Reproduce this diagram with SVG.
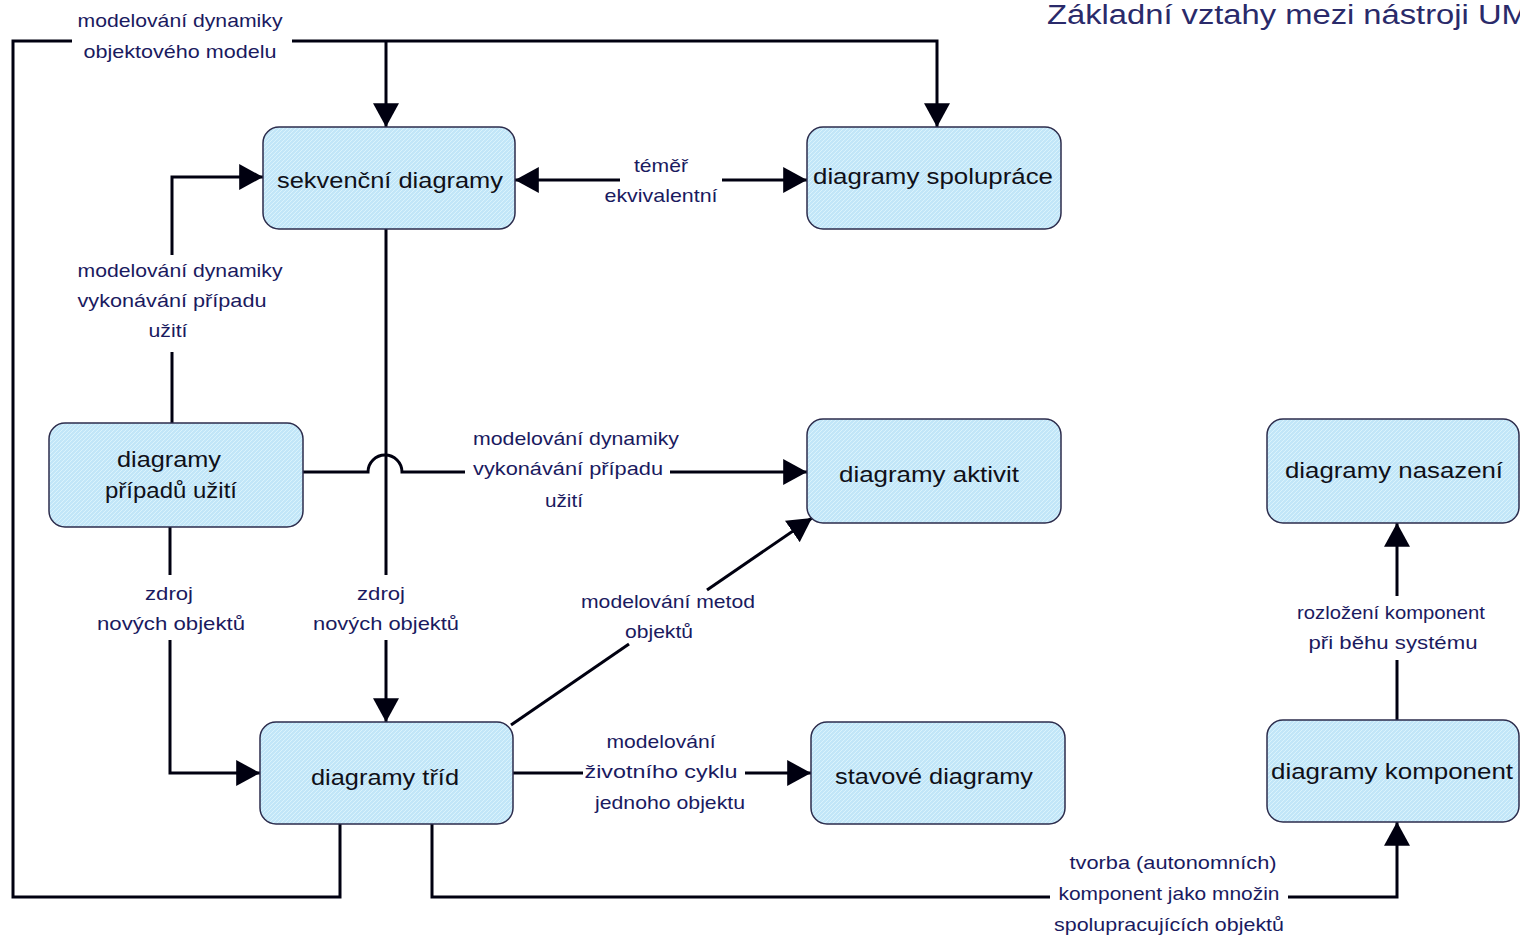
<svg xmlns="http://www.w3.org/2000/svg" width="1520" height="939" viewBox="0 0 1520 939">
<defs>
  <pattern id="hatch" width="4" height="4" patternUnits="userSpaceOnUse">
    <rect width="4" height="4" fill="#c2e6f8"/>
    <path d="M0,4 L4,0" stroke="#daf3fc" stroke-width="1"/>
  </pattern>
  <marker id="arr" markerUnits="userSpaceOnUse" markerWidth="24" markerHeight="26" viewBox="0 0 22 24" refX="22" refY="12" orient="auto">
    <path d="M0,0 L22,12 L0,24 z" fill="#000010"/>
  </marker>
  <marker id="arrS" markerUnits="userSpaceOnUse" markerWidth="24" markerHeight="26" viewBox="0 0 22 24" refX="0" refY="12" orient="auto">
    <path d="M22,0 L0,12 L22,24 z" fill="#000010"/>
  </marker>
</defs>
<style>
  .node rect { fill: url(#hatch); stroke: #2c2c4c; stroke-width: 1.5; }
  .node text { font-family: "Liberation Sans", Arial, sans-serif; font-size: 22px; fill: #101018; text-anchor: middle; }
  .conn path { fill: none; stroke: #000010; stroke-width: 3; }
  .lbl { font-family: "Liberation Sans", Arial, sans-serif; font-size: 19px; fill: #1a1a60; text-anchor: middle; }
  .title { font-family: "Liberation Sans", Arial, sans-serif; font-size: 27px; fill: #2a2a6a; }
</style>
<rect width="1520" height="939" fill="#ffffff"/>

<text class="title" x="1047" y="24" textLength="500" lengthAdjust="spacingAndGlyphs">Základní vztahy mezi nástroji UML</text>

<g class="conn" id="connectors">
  <!-- loop: tříd -> sekvenční / spolupráce -->
  <path d="M340,824 V897 H13 V41 H72"/>
  <path d="M292,41 H937 V127" marker-end="url(#arr)"/>
  <path d="M386,41 V127" marker-end="url(#arr)"/>
  <!-- sekvenční <-> spolupráce -->
  <path d="M515,180 H620" marker-start="url(#arrS)"/>
  <path d="M722,180 H807" marker-end="url(#arr)"/>
  <!-- use case -> sekvenční -->
  <path d="M172,423 V352"/>
  <path d="M172,255 V177 H263" marker-end="url(#arr)"/>
  <!-- sekvenční -> tříd -->
  <path d="M386,229 V575"/>
  <path d="M386,640 V722" marker-end="url(#arr)"/>
  <!-- use case -> aktivit (with hop) -->
  <path d="M303,472 H368 A17,17 0 0 1 402,472 H465"/>
  <path d="M670,472 H807" marker-end="url(#arr)"/>
  <!-- use case -> tříd -->
  <path d="M170,527 V575"/>
  <path d="M170,640 V773 H260" marker-end="url(#arr)"/>
  <!-- tříd -> aktivit -->
  <path d="M511,725 L629,644"/>
  <path d="M707,590 L812,518" marker-end="url(#arr)"/>
  <!-- tříd -> stavové -->
  <path d="M513,773 H583"/>
  <path d="M745,773 H811" marker-end="url(#arr)"/>
  <!-- tříd -> komponent -->
  <path d="M432,824 V897 H1050"/>
  <path d="M1288,897 H1397 V822" marker-end="url(#arr)"/>
  <!-- komponent -> nasazení -->
  <path d="M1397,720 V660"/>
  <path d="M1397,596 V523" marker-end="url(#arr)"/>
</g>

<g id="labels">
  <text class="lbl" x="180" y="27" textLength="205" lengthAdjust="spacingAndGlyphs">modelování dynamiky</text>
  <text class="lbl" x="180" y="58" textLength="193" lengthAdjust="spacingAndGlyphs">objektového modelu</text>
  <text class="lbl" x="661" y="172" textLength="54" lengthAdjust="spacingAndGlyphs">téměř</text>
  <text class="lbl" x="661" y="202" textLength="113" lengthAdjust="spacingAndGlyphs">ekvivalentní</text>
  <text class="lbl" x="180" y="277" textLength="205" lengthAdjust="spacingAndGlyphs">modelování dynamiky</text>
  <text class="lbl" x="172" y="307" textLength="189" lengthAdjust="spacingAndGlyphs">vykonávání případu</text>
  <text class="lbl" x="168" y="337" textLength="39" lengthAdjust="spacingAndGlyphs">užití</text>
  <text class="lbl" x="576" y="445" textLength="206" lengthAdjust="spacingAndGlyphs">modelování dynamiky</text>
  <text class="lbl" x="568" y="475" textLength="190" lengthAdjust="spacingAndGlyphs">vykonávání případu</text>
  <text class="lbl" x="564" y="507" textLength="38" lengthAdjust="spacingAndGlyphs">užití</text>
  <text class="lbl" x="169" y="600" textLength="48" lengthAdjust="spacingAndGlyphs">zdroj</text>
  <text class="lbl" x="171" y="630" textLength="148" lengthAdjust="spacingAndGlyphs">nových objektů</text>
  <text class="lbl" x="381" y="600" textLength="48" lengthAdjust="spacingAndGlyphs">zdroj</text>
  <text class="lbl" x="386" y="630" textLength="146" lengthAdjust="spacingAndGlyphs">nových objektů</text>
  <text class="lbl" x="668" y="608" textLength="174" lengthAdjust="spacingAndGlyphs">modelování metod</text>
  <text class="lbl" x="659" y="638" textLength="68" lengthAdjust="spacingAndGlyphs">objektů</text>
  <text class="lbl" x="661" y="748" textLength="109" lengthAdjust="spacingAndGlyphs">modelování</text>
  <text class="lbl" x="661" y="778" textLength="153" lengthAdjust="spacingAndGlyphs">životního cyklu</text>
  <text class="lbl" x="670" y="809" textLength="150" lengthAdjust="spacingAndGlyphs">jednoho objektu</text>
  <text class="lbl" x="1391" y="619" textLength="188" lengthAdjust="spacingAndGlyphs">rozložení komponent</text>
  <text class="lbl" x="1393" y="649" textLength="169" lengthAdjust="spacingAndGlyphs">při běhu systému</text>
  <text class="lbl" x="1173" y="869" textLength="207" lengthAdjust="spacingAndGlyphs">tvorba (autonomních)</text>
  <text class="lbl" x="1169" y="900" textLength="221" lengthAdjust="spacingAndGlyphs">komponent jako množin</text>
  <text class="lbl" x="1169" y="931" textLength="230" lengthAdjust="spacingAndGlyphs">spolupracujících objektů</text>
</g>

<g class="node" id="n-sekvencni">
  <rect x="263" y="127" width="252" height="102" rx="16"/>
  <text x="390" y="188" textLength="226" lengthAdjust="spacingAndGlyphs">sekvenční diagramy</text>
</g>
<g class="node" id="n-spoluprace">
  <rect x="807" y="127" width="254" height="102" rx="16"/>
  <text x="933" y="184" textLength="240" lengthAdjust="spacingAndGlyphs">diagramy spolupráce</text>
</g>
<g class="node" id="n-pripady">
  <rect x="49" y="423" width="254" height="104" rx="16"/>
  <text x="169" y="467" textLength="104" lengthAdjust="spacingAndGlyphs">diagramy</text>
  <text x="171" y="498" textLength="132" lengthAdjust="spacingAndGlyphs">případů užití</text>
</g>
<g class="node" id="n-aktivit">
  <rect x="807" y="419" width="254" height="104" rx="16"/>
  <text x="929" y="482" textLength="180" lengthAdjust="spacingAndGlyphs">diagramy aktivit</text>
</g>
<g class="node" id="n-nasazeni">
  <rect x="1267" y="419" width="252" height="104" rx="16"/>
  <text x="1394" y="478" textLength="218" lengthAdjust="spacingAndGlyphs">diagramy nasazení</text>
</g>
<g class="node" id="n-trid">
  <rect x="260" y="722" width="253" height="102" rx="16"/>
  <text x="385" y="785" textLength="148" lengthAdjust="spacingAndGlyphs">diagramy tříd</text>
</g>
<g class="node" id="n-stavove">
  <rect x="811" y="722" width="254" height="102" rx="16"/>
  <text x="934" y="784" textLength="198" lengthAdjust="spacingAndGlyphs">stavové diagramy</text>
</g>
<g class="node" id="n-komponent">
  <rect x="1267" y="720" width="252" height="102" rx="16"/>
  <text x="1392" y="779" textLength="242" lengthAdjust="spacingAndGlyphs">diagramy komponent</text>
</g>
</svg>
